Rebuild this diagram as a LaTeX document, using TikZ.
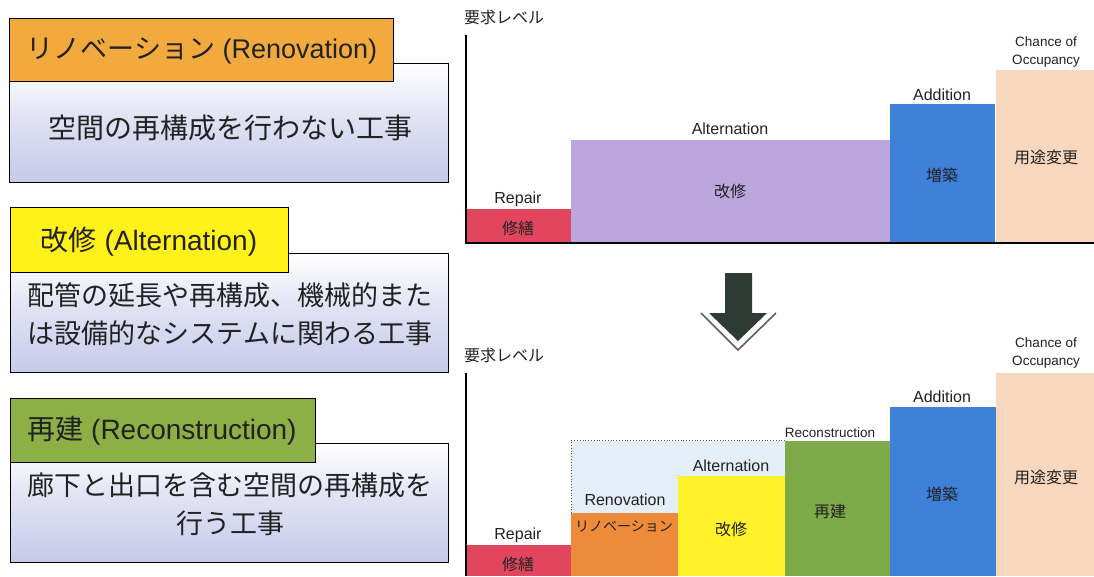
\documentclass[tikz,border=0pt]{standalone}
\usepackage{fontspec}
\setmainfont{Liberation Sans}
\newfontfamily\cjk{Noto Sans CJK JP}
\definecolor{ttlorange}{HTML}{F2AA3E}
\definecolor{ttlyellow}{HTML}{FFF21A}
\definecolor{ttlgreen}{HTML}{8CB045}
\definecolor{lav}{HTML}{C6CAEA}
\definecolor{lavmid}{HTML}{DEE0F3}
\definecolor{crepair}{HTML}{E2465F}
\definecolor{cpurple}{HTML}{BBA6DE}
\definecolor{cblue}{HTML}{3F80D8}
\definecolor{cpeach}{HTML}{F8D7BF}
\definecolor{corange}{HTML}{EE8B3A}
\definecolor{cyellow}{HTML}{FFF22A}
\definecolor{cgreen}{HTML}{7FAA4A}
\definecolor{cpale}{HTML}{E4EEF6}
\definecolor{arrowc}{HTML}{2E3A34}
\definecolor{txt}{HTML}{222222}
\tikzset{
  bodybox/.style={draw=black, line width=1.2pt, top color=white, bottom color=lav, middle color=lavmid, anchor=north west, inner sep=0pt},
  titlebox/.style={draw=black, line width=1.2pt, anchor=north west, inner sep=0pt},
  ttltext/.style={font=\fontsize{28}{32}\selectfont, text=txt, inner sep=0pt},
  bodytext/.style={font=\cjk\fontsize{27}{38}\selectfont, text=txt, align=center, inner sep=0pt},
  bar/.style={anchor=south west, inner sep=0pt, draw=none},
  lbl/.style={font=\fontsize{16}{19}\selectfont, text=txt, inner sep=0pt},
  slbl/.style={font=\fontsize{13.5}{18}\selectfont, text=txt, inner sep=0pt, align=center},
  jlbl/.style={font=\cjk\fontsize{16}{19}\selectfont, text=txt, inner sep=0pt},
  axis/.style={line width=1.3pt, black}
}
\begin{document}
\begin{tikzpicture}[x=1pt,y=-1pt]
\useasboundingbox (0,0) rectangle (1094,576);
\fill[white] (0,0) rectangle (1094,576);

% ---------- left boxes ----------
\node[bodybox, minimum width=439pt, minimum height=119pt] (b1) at (9,63) {};
\node[titlebox, fill=ttlorange, minimum width=384pt, minimum height=63pt] (t1) at (9,18) {};
\node[ttltext, font=\fontsize{27}{32}\selectfont] (t1x) at (202,51) {{\cjk リノベーション} (Renovation)};
\node[bodytext, font=\cjk\fontsize{28}{34}\selectfont] (b1x) at (230,128) {空間の再構成を行わない工事};

\node[bodybox, minimum width=438pt, minimum height=119pt] (b2) at (10,253) {};
\node[titlebox, fill=ttlyellow, minimum width=278pt, minimum height=65pt] (t2) at (10,207) {};
\node[ttltext] (t2x) at (149,242) {{\cjk 改修} (Alternation)};
\node[bodytext] (b2x) at (230,314) {配管の延長や再構成、機械的また\\は設備的なシステムに関わる工事};

\node[bodybox, minimum width=438pt, minimum height=119pt] (b3) at (10,443) {};
\node[titlebox, fill=ttlgreen, minimum width=305pt, minimum height=64pt] (t3) at (10,398) {};
\node[ttltext] (t3x) at (162,431) {{\cjk 再建} (Reconstruction)};
\node[bodytext] (b3x) at (230,504) {廊下と出口を含む空間の再構成を\\行う工事};

% ---------- top chart ----------
\node[jlbl, anchor=west] (ylab1) at (464,17) {要求レベル};
\node[bar, fill=crepair, minimum width=105pt, minimum height=34pt] (r1) at (466,243) {};
\node[bar, fill=cpurple, minimum width=319pt, minimum height=103pt] (a1) at (571,243) {};
\node[bar, fill=cblue, minimum width=105pt, minimum height=139pt] (d1) at (890,243) {};
\node[bar, fill=cpeach, minimum width=98pt, minimum height=173pt] (c1) at (996,243) {};
\draw[axis] (466,35) -- (466,243) -- (1094,243);
\node[lbl] (r1l) at (518,199) {Repair};
\node[jlbl] (r1j) at (518,228) {修繕};
\node[lbl] (a1l) at (730,129) {Alternation};
\node[jlbl] (a1j) at (730,191) {改修};
\node[lbl] (d1l) at (942,95) {Addition};
\node[jlbl] (d1j) at (942,175) {増築};
\node[slbl] (c1l) at (1046,52) {Chance of\\Occupancy};
\node[jlbl] (c1j) at (1046,157) {用途変更};

% ---------- arrow ----------
\fill[arrowc] (725,273) -- (752,273) -- (752,313) -- (767,313) -- (738,341) -- (709,313) -- (725,313) -- cycle;
\draw[gray!75!black, line width=1.6pt] (701,313) -- (738,350) -- (776,313);

% ---------- bottom chart ----------
\node[jlbl, anchor=west] (ylab2) at (464,355) {要求レベル};
\node[bar, fill=cpale, minimum width=214pt, minimum height=72pt] (p2) at (571,513) {};
\draw[dotted, gray!70!black, line width=0.8pt] (p2.south west) -- (p2.north west) -- (p2.north east);
\node[bar, fill=crepair, minimum width=105pt, minimum height=31pt] (r2) at (466,576) {};
\node[bar, fill=corange, minimum width=107pt, minimum height=63pt] (n2) at (571,576) {};
\node[bar, fill=cyellow, minimum width=107pt, minimum height=100pt] (a2) at (678,576) {};
\node[bar, fill=cgreen, minimum width=105pt, minimum height=135pt] (g2) at (785,576) {};
\node[bar, fill=cblue, minimum width=106pt, minimum height=169pt] (d2) at (890,576) {};
\node[bar, fill=cpeach, minimum width=98pt, minimum height=203pt] (c2) at (996,576) {};
\draw[axis] (466,373) -- (466,576);
\node[lbl] (r2l) at (518,535) {Repair};
\node[jlbl] (r2j) at (518,564) {修繕};
\node[lbl] (n2l) at (625,500) {Renovation};
\node[jlbl, font=\cjk\fontsize{14}{17}\selectfont] (n2j) at (624,527) {リノベーション};
\node[lbl] (a2l) at (731,466) {Alternation};
\node[jlbl] (a2j) at (731,529) {改修};
\node[slbl] (g2l) at (830,433) {Reconstruction};
\node[jlbl] (g2j) at (830,511) {再建};
\node[lbl] (d2l) at (942,397) {Addition};
\node[jlbl] (d2j) at (942,494) {増築};
\node[slbl] (c2l) at (1046,353) {Chance of\\Occupancy};
\node[jlbl] (c2j) at (1046,477) {用途変更};
\end{tikzpicture}
\end{document}
